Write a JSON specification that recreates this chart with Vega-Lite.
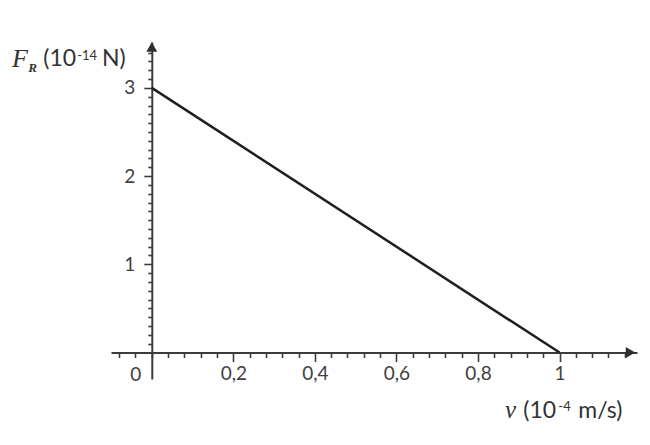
{
  "$schema": "https://vega.github.io/schema/vega-lite/v6.json",
  "width": 526,
  "height": 337,
  "autosize": "none",
  "padding": {"left": 111, "top": 42, "right": 13, "bottom": 66},
  "background": "white",
  "config": {"view": {"stroke": null}, "font": "Lato"},
  "layer": [
    {
      "data": {"values": [{"v": 0, "F": 3}, {"v": 1, "F": 0}]},
      "mark": {"type": "line", "color": "#1f1f1f", "strokeWidth": 2.5},
      "encoding": {
        "x": {
          "field": "v", "type": "quantitative",
          "scale": {"domain": [-0.1, 1.19], "nice": false, "zero": false},
          "axis": {
            "title": null,
            "offset": -26.4,
            "grid": false,
            "tickCount": 500,
            "domainColor": "#3c3c3c", "domainWidth": 2,
            "tickColor": "#3c3c3c", "tickWidth": 1.6,
            "values": [-0.08,-0.04,0,0.04,0.08,0.12,0.16,0.2,0.24,0.28,0.32,0.36,0.4,0.44,0.48,0.52,0.56,0.6,0.64,0.68,0.72,0.76,0.8,0.84,0.88,0.92,0.96,1,1.04,1.08,1.12,1.16],
            "tickSize": {"condition": {"test": "abs(datum.value*5 - round(datum.value*5)) < 0.001 && datum.value > 0.01", "value": 9}, "value": 5},
            "labelExpr": "abs(datum.value*5 - round(datum.value*5)) < 0.001 && datum.value > 0.01 ? replace(format(datum.value, '.1~f'), '.', ',') : ''",
            "labelFont": "Lato", "labelFontSize": 19, "labelColor": "#404040",
            "labelPadding": 3, "labelFlush": false, "labelOverlap": false
          }
        },
        "y": {
          "field": "F", "type": "quantitative",
          "scale": {"domain": [-0.3, 3.52], "nice": false, "zero": false},
          "axis": {
            "title": null,
            "offset": -40.8,
            "grid": false,
            "tickCount": 500,
            "domainColor": "#3c3c3c", "domainWidth": 2,
            "tickColor": "#3c3c3c", "tickWidth": 1.6,
            "values": [0.1,0.2,0.3,0.4,0.5,0.6,0.7,0.8,0.9,1,1.1,1.2,1.3,1.4,1.5,1.6,1.7,1.8,1.9,2,2.1,2.2,2.3,2.4,2.5,2.6,2.7,2.8,2.9,3,3.1,3.2,3.3,3.4],
            "tickSize": {"condition": {"test": "abs(datum.value - round(datum.value)) < 0.001", "value": 8}, "value": 4},
            "labelExpr": "abs(datum.value - round(datum.value)) < 0.001 ? format(datum.value, 'd') : ''",
            "labelFont": "Lato", "labelFontSize": 19, "labelColor": "#404040",
            "labelPadding": 9, "labelOverlap": false
          }
        }
      }
    },
    {
      "data": {"values": [{"v": 1.174, "F": 0}]},
      "mark": {"type": "point", "shape": "triangle-right", "filled": true, "color": "#2e2e2e", "size": 120, "opacity": 1},
      "encoding": {"x": {"field": "v", "type": "quantitative"}, "y": {"field": "F", "type": "quantitative"}}
    },
    {
      "data": {"values": [{"v": 0, "F": 3.464}]},
      "mark": {"type": "point", "shape": "triangle-up", "filled": true, "color": "#2e2e2e", "size": 120, "opacity": 1},
      "encoding": {"x": {"field": "v", "type": "quantitative"}, "y": {"field": "F", "type": "quantitative"}}
    },
    {
      "data": {"values": [{}]},
      "mark": {"type": "text", "font": "Lato", "fontSize": 19, "color": "#404040", "align": "center", "baseline": "middle", "dx": -16, "dy": 22},
      "encoding": {"x": {"datum": 0}, "y": {"datum": 0}, "text": {"value": "0"}}
    },
    {
      "data": {"values": [{}]},
      "mark": {"type": "text", "font": "Liberation Serif", "fontStyle": "italic", "fontSize": 26, "color": "#333333", "align": "left", "baseline": "alphabetic"},
      "encoding": {"x": {"datum": -0.343}, "y": {"datum": 3.238}, "text": {"value": "F"}}
    },
    {
      "data": {"values": [{}]},
      "mark": {"type": "text", "font": "Liberation Serif", "fontStyle": "italic", "fontWeight": "bold", "fontSize": 13, "color": "#333333", "align": "left", "baseline": "alphabetic"},
      "encoding": {"x": {"datum": -0.303}, "y": {"datum": 3.181}, "text": {"value": "R"}}
    },
    {
      "data": {"values": [{}]},
      "mark": {"type": "text", "font": "Lato", "fontSize": 23, "color": "#333333", "align": "left", "baseline": "alphabetic"},
      "encoding": {"x": {"datum": -0.266}, "y": {"datum": 3.249}, "text": {"value": "(10"}}
    },
    {
      "data": {"values": [{}]},
      "mark": {"type": "text", "font": "Lato", "fontSize": 13, "color": "#333333", "align": "left", "baseline": "alphabetic"},
      "encoding": {"x": {"datum": -0.183}, "y": {"datum": 3.317}, "text": {"value": "-14"}}
    },
    {
      "data": {"values": [{}]},
      "mark": {"type": "text", "font": "Lato", "fontSize": 23, "color": "#333333", "align": "left", "baseline": "alphabetic"},
      "encoding": {"x": {"datum": -0.122}, "y": {"datum": 3.249}, "text": {"value": "N)"}}
    },
    {
      "data": {"values": [{}]},
      "mark": {"type": "text", "font": "Liberation Serif", "fontStyle": "italic", "fontSize": 25, "color": "#333333", "align": "left", "baseline": "alphabetic"},
      "encoding": {"x": {"datum": 0.866}, "y": {"datum": -0.747}, "text": {"value": "v"}}
    },
    {
      "data": {"values": [{}]},
      "mark": {"type": "text", "font": "Lato", "fontSize": 23, "color": "#333333", "align": "left", "baseline": "alphabetic"},
      "encoding": {"x": {"datum": 0.911}, "y": {"datum": -0.747}, "text": {"value": "(10"}}
    },
    {
      "data": {"values": [{}]},
      "mark": {"type": "text", "font": "Lato", "fontSize": 13, "color": "#333333", "align": "left", "baseline": "alphabetic"},
      "encoding": {"x": {"datum": 0.997}, "y": {"datum": -0.668}, "text": {"value": "-4"}}
    },
    {
      "data": {"values": [{}]},
      "mark": {"type": "text", "font": "Lato", "fontSize": 23, "color": "#333333", "align": "left", "baseline": "alphabetic"},
      "encoding": {"x": {"datum": 1.046}, "y": {"datum": -0.747}, "text": {"value": "m/s)"}}
    }
  ]
}
